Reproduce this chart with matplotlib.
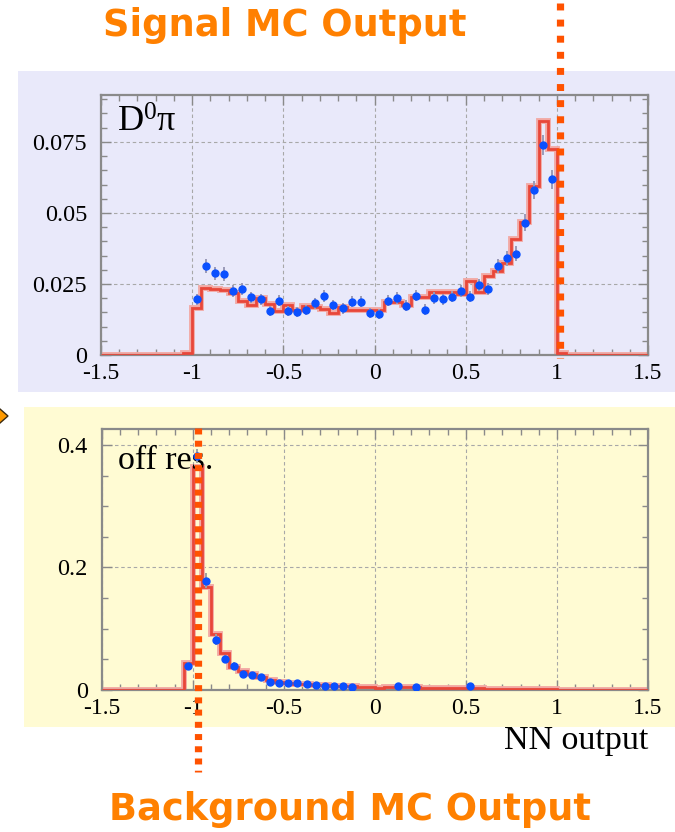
import numpy as np
import matplotlib
matplotlib.use("Agg")
import matplotlib.pyplot as plt
from matplotlib.patches import Rectangle, Polygon
from matplotlib.lines import Line2D
from matplotlib.ticker import MultipleLocator

plt.rcParams["lines.scale_dashes"] = False
plt.rcParams["mathtext.fontset"] = "custom"
plt.rcParams["mathtext.rm"] = "Liberation Serif"
plt.rcParams["mathtext.it"] = "Liberation Serif:italic"

# ---------------- data ----------------
# histogram bin edges (width 0.05) for the MC shapes, -1.05 .. 1.05
mc_edges = np.round(np.arange(-1.05, 1.0501, 0.05), 3)

# signal (D0 pi) MC histogram
signal_mc = [0.0008, 0.0166, 0.0236, 0.0231, 0.0228, 0.0217, 0.0191, 0.0175,
             0.0200, 0.0178, 0.0156, 0.0177, 0.0157, 0.0174, 0.0168, 0.0161,
             0.0148, 0.0168, 0.0158, 0.0158, 0.0158, 0.0158, 0.0186, 0.0186,
             0.0177, 0.0203, 0.0203, 0.0223, 0.0221, 0.0221, 0.0214, 0.0262,
             0.0220, 0.0279, 0.0297, 0.0323, 0.0407, 0.0467, 0.0595, 0.0825,
             0.0724, 0.0008]

# signal data points at bin centres -0.975 .. 0.975
signal_x = np.round(np.arange(-0.975, 0.976, 0.05), 3)
signal_pts = [0.0196, 0.0313, 0.0288, 0.0285, 0.0225, 0.0231, 0.0203, 0.0196,
              0.0156, 0.0191, 0.0155, 0.0150, 0.0158, 0.0182, 0.0208, 0.0176,
              0.0164, 0.0187, 0.0187, 0.0149, 0.0145, 0.0191, 0.0201, 0.0173,
              0.0209, 0.0160, 0.0201, 0.0196, 0.0205, 0.0225, 0.0205, 0.0246,
              0.0232, 0.0313, 0.0340, 0.0357, 0.0466, 0.0581, 0.0739, 0.0618]
signal_err = [0.0020, 0.0024, 0.0023, 0.0023, 0.0021, 0.0021, 0.0020, 0.0020,
              0.0018, 0.0020, 0.0018, 0.0018, 0.0018, 0.0019, 0.0020, 0.0019,
              0.0018, 0.0019, 0.0019, 0.0018, 0.0018, 0.0019, 0.0020, 0.0019,
              0.0020, 0.0018, 0.0020, 0.0020, 0.0020, 0.0021, 0.0020, 0.0022,
              0.0021, 0.0025, 0.0026, 0.0026, 0.0030, 0.0032, 0.0035, 0.0034]

# off-resonance (background) MC histogram
background_mc = [0.0436, 0.3647, 0.1687, 0.0909, 0.0599, 0.0381, 0.0316, 0.0260,
                 0.0207, 0.0163, 0.0136, 0.0115, 0.0105, 0.0095, 0.0088, 0.0080,
                 0.0072, 0.0068, 0.0062, 0.0055, 0.0050, 0.0030, 0.0050, 0.0048,
                 0.0045, 0.0042, 0.0038, 0.0035, 0.0033, 0.0030, 0.0030, 0.0028,
                 0.0026, 0.0024, 0.0022, 0.0020, 0.0020, 0.0018, 0.0018, 0.0016,
                 0.0016, 0.0000]

# off-resonance data points
background_x = [-1.025, -0.975, -0.925, -0.875, -0.825, -0.775, -0.725, -0.675,
                -0.625, -0.575, -0.525, -0.475, -0.425, -0.375, -0.325, -0.275,
                -0.225, -0.175, -0.125, 0.125, 0.225, 0.525]
background_pts = [0.0392, 0.382, 0.1785, 0.0817, 0.0506, 0.0392, 0.0261, 0.0248,
                  0.0212, 0.0128, 0.0112, 0.0116, 0.0120, 0.0093, 0.0082, 0.0071,
                  0.0071, 0.0071, 0.0049, 0.0071, 0.0054, 0.0065]
background_err = [0.006, 0.012, 0.012, 0.009, 0.007, 0.006, 0.005, 0.005,
                  0.005, 0.004, 0.004, 0.004, 0.004, 0.003, 0.003, 0.003,
                  0.003, 0.003, 0.003, 0.003, 0.003, 0.003]

x_ticks = [-1.5, -1, -0.5, 0, 0.5, 1, 1.5]
x_ticklabels = ["-1.5", "-1", "-0.5", "0", "0.5", "1", "1.5"]
signal_yticks = [0, 0.025, 0.05, 0.075]
signal_yticklabels = ["0", "0.025", "0.05", "0.075"]
background_yticks = [0, 0.2, 0.4]
background_yticklabels = ["0", "0.2", "0.4"]

# ---------------- style ----------------
W, H = 675, 832
LAVENDER = "#e9e9fa"
CREAM = "#fffbd3"
RED = "#e8473a"
PINK = "#f2a9a4"
BLUE = "#0a50ff"
ORANGE_TXT = "#ff8000"
ORANGE_DOT = "#ff5200"
SERIF = "Liberation Serif"


def fx(x):
    return x / W


def fy(y):
    return 1 - y / H


fig = plt.figure(figsize=(W / 100, H / 100), dpi=100)
fig.patch.set_facecolor("white")

# panel backgrounds
fig.add_artist(Rectangle((fx(18), fy(392)), 1 - fx(18), fy(71) - fy(392),
                         transform=fig.transFigure, facecolor=LAVENDER,
                         edgecolor="none", zorder=-5))
fig.add_artist(Rectangle((fx(24), fy(727)), 1 - fx(24), fy(407) - fy(727),
                         transform=fig.transFigure, facecolor=CREAM,
                         edgecolor="none", zorder=-5))


def style_axes(ax, ylim, yticks, yticklabels, face):
    ax.set_facecolor(face)
    ax.set_xlim(-1.5, 1.5)
    ax.set_ylim(*ylim)
    ax.set_xticks(x_ticks)
    ax.set_xticklabels(x_ticklabels)
    ax.set_yticks(yticks)
    ax.set_yticklabels(yticklabels)
    ax.xaxis.set_minor_locator(MultipleLocator(0.1))
    ax.tick_params(which="both", direction="in", top=True, right=True,
                   color="#8a8a8a", width=1.0)
    ax.tick_params(which="major", length=7)
    ax.tick_params(which="minor", length=4)
    ax.tick_params(axis="x", which="major", pad=6, labelsize=17)
    ax.tick_params(axis="y", which="major", pad=10, labelsize=17.5)
    for lab in ax.get_xticklabels() + ax.get_yticklabels():
        lab.set_fontfamily(SERIF)
    for s in ax.spines.values():
        s.set_color("#8a8a8a")
        s.set_linewidth(1.6)
    ax.grid(True, which="major", color="#a8a8a8", linestyle=(0, (2.5, 2)),
            linewidth=0.8)
    ax.set_axisbelow(True)


def draw_hist(ax, edges, values):
    full_edges = np.concatenate([[-1.5], edges, [1.5]])
    full_vals = np.concatenate([[0.0], values, [0.0]])
    ax.stairs(full_vals, full_edges, baseline=None, color=PINK, linewidth=4.2,
              zorder=2)
    ax.stairs(full_vals, full_edges, baseline=None, color=RED, linewidth=2.0,
              zorder=3)


# ---- signal panel ----
ax1 = fig.add_axes([fx(101), fy(355), fx(648) - fx(101), fy(95) - fy(355)])
style_axes(ax1, (0, 0.0915), signal_yticks, signal_yticklabels, LAVENDER)
ax1.yaxis.set_minor_locator(MultipleLocator(0.005))
draw_hist(ax1, mc_edges, signal_mc)
ax1.errorbar(signal_x, signal_pts, yerr=signal_err, fmt="o", color=BLUE,
             ms=5.0, mec=BLUE, ecolor="#9a9ab8", elinewidth=1.4, capsize=0,
             zorder=4)
ax1.text(0.03, 0.955, r"$\mathrm{D^0\pi}$", transform=ax1.transAxes,
         fontsize=26, ha="left", va="top", family=SERIF)

# ---- background panel ----
ax2 = fig.add_axes([fx(101.7), fy(690), fx(648) - fx(101.7), fy(429) - fy(690)])
style_axes(ax2, (0, 0.426), background_yticks, background_yticklabels, CREAM)
ax2.yaxis.set_minor_locator(MultipleLocator(0.05))
draw_hist(ax2, mc_edges, background_mc)
ax2.errorbar(background_x, background_pts, yerr=background_err, fmt="o",
             color=BLUE, ms=5.0, mec=BLUE, ecolor="#a0a0a0", elinewidth=1.4,
             capsize=0, zorder=4)
ax2.text(0.03, 0.935, "off res.", transform=ax2.transAxes, fontsize=24.5,
         ha="left", va="top", family=SERIF)
fig.text(fx(648), fy(741), "NN output", fontsize=24.5, family=SERIF,
         ha="right", va="center")

# ---- cut markers ----
fig.add_artist(Line2D([fx(559.5), fx(559.5)], [fy(3), fy(358)],
                      transform=fig.transFigure, color=ORANGE_DOT,
                      linewidth=5.2, dashes=(5.0, 6.6),
                      dash_capstyle="butt", zorder=10))
fig.add_artist(Line2D([fx(198), fx(198)], [fy(428), fy(772)],
                      transform=fig.transFigure, color=ORANGE_DOT,
                      linewidth=5.2, dashes=(4.3, 4.5),
                      dash_capstyle="butt", zorder=10))

# ---- bullet arrow at the left edge ----
fig.add_artist(Polygon([(fx(-8), fy(402)), (fx(8), fy(416)), (fx(-8), fy(430))],
                       closed=True, transform=fig.transFigure,
                       facecolor="#ff9a00", edgecolor="#3a2a10", linewidth=1.0,
                       zorder=10))

# ---- headings ----
fig.text(fx(285), fy(25), "Signal MC Output", color=ORANGE_TXT, fontsize=26.5,
         fontweight="bold", family="DejaVu Sans", ha="center", va="center")
fig.text(fx(350), fy(809), "Background MC Output", color=ORANGE_TXT,
         fontsize=26.5, fontweight="bold", family="DejaVu Sans", ha="center",
         va="center")

fig.savefig("out.png", dpi=100)
